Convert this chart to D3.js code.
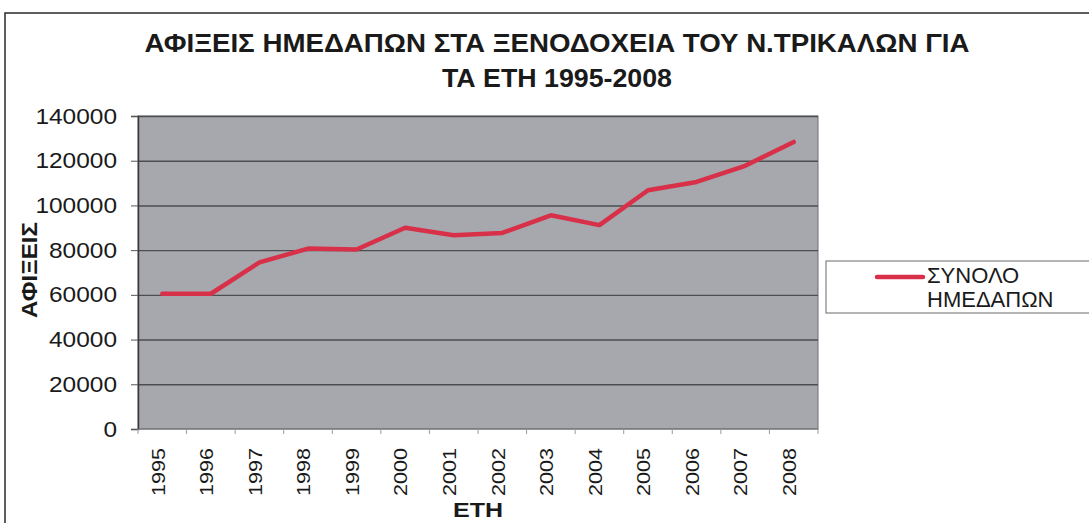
<!DOCTYPE html>
<html>
<head>
<meta charset="utf-8">
<script src="https://cdn.jsdelivr.net/npm/d3@7"></script>
<style>
  body { margin: 0; background: #fff; }
  text { font-family: "Liberation Sans", Arial, sans-serif; fill: #1a1a1a; }
</style>
</head>
<body>
<div id="container"></div>
<script>
/* DATA */
const years = ["1995","1996","1997","1998","1999","2000","2001","2002","2003","2004","2005","2006","2007","2008"];
const arrivals = [60500, 60500, 74500, 80700, 80300, 90000, 86700, 87700, 95600, 91200, 106800, 110500, 117700, 128400];
const yTicks = [0, 20000, 40000, 60000, 80000, 100000, 120000, 140000];
const titleLines = ["ΑΦΙΞΕΙΣ ΗΜΕΔΑΠΩΝ ΣΤΑ ΞΕΝΟΔΟΧΕΙΑ ΤΟΥ Ν.ΤΡΙΚΑΛΩΝ ΓΙΑ", "ΤΑ ΕΤΗ 1995-2008"];
const seriesName = ["ΣΥΝΟΛΟ", "ΗΜΕΔΑΠΩΝ"];

/* SIZES */
const W = 1089, H = 523;
const plot = { left: 138, right: 818, top: 116, bottom: 429 };

const svg = d3.select("#container").append("svg")
  .attr("width", W)
  .attr("height", H);

// outer chart frame
svg.append("rect")
  .attr("x", 5).attr("y", 13)
  .attr("width", W + 20).attr("height", H + 20)
  .attr("fill", "none")
  .attr("stroke", "#2a2a2a")
  .attr("stroke-width", 1.5);

// SCALES
const x = d3.scaleBand().domain(years).range([plot.left, plot.right]);
const y = d3.scaleLinear().domain([0, 140000]).range([plot.bottom, plot.top]);

/* PLOT BACKGROUND */
svg.append("rect")
  .attr("x", plot.left).attr("y", plot.top)
  .attr("width", plot.right - plot.left)
  .attr("height", plot.bottom - plot.top)
  .attr("fill", "#a6a8ad")
  .attr("stroke", "#6e6f72")
  .attr("stroke-width", 1);

/* GRIDLINES */
svg.append("g")
  .attr("transform", "translate(" + plot.left + ",0)")
  .call(d3.axisLeft(y).tickValues(yTicks.filter(d => d > 0)).tickSize(-(plot.right - plot.left)).tickFormat(""))
  .call(g => g.select(".domain").remove())
  .call(g => g.selectAll("line").attr("stroke", "#4d4e51").attr("stroke-width", 1.4));

/* Y AXIS */
svg.append("g")
  .attr("transform", "translate(" + plot.left + ",0)")
  .call(d3.axisLeft(y).tickValues(yTicks).tickSize(7).tickPadding(14).tickFormat(d3.format("d")))
  .call(g => g.select(".domain").attr("stroke", "#3a3a3a").attr("stroke-width", 1.5))
  .call(g => g.selectAll("line").attr("stroke", "#555"))
  .call(g => g.selectAll("text")
    .attr("font-family", "Liberation Sans, Arial, sans-serif")
    .attr("font-size", 22)
    .attr("textLength", d => String(d).length * 13.6)
    .attr("lengthAdjust", "spacingAndGlyphs")
    .attr("fill", "#1a1a1a"));

/* X AXIS: line, ticks between categories */
svg.append("line")
  .attr("x1", plot.left).attr("x2", plot.right)
  .attr("y1", plot.bottom).attr("y2", plot.bottom)
  .attr("stroke", "#707174").attr("stroke-width", 1.2);

svg.append("g").selectAll("line")
  .data(years.concat(["end"]))
  .join("line")
  .attr("x1", d => d === "end" ? plot.right : x(d))
  .attr("x2", d => d === "end" ? plot.right : x(d))
  .attr("y1", plot.bottom)
  .attr("y2", plot.bottom + 5)
  .attr("stroke", "#9a9a9a");

svg.append("g").selectAll("text")
  .data(years)
  .join("text")
  .attr("transform", d => "translate(" + (x(d) + x.bandwidth() / 2 - 4) + "," + 448 + ") rotate(-90)")
  .attr("dy", "0.35em")
  .attr("text-anchor", "end")
  .attr("font-size", 18)
  .attr("textLength", 48)
  .attr("lengthAdjust", "spacingAndGlyphs")
  .text(d => d);

/* LINE */
const line = d3.line()
  .x((d, i) => x(years[i]) + x.bandwidth() / 2)
  .y(d => y(d));

svg.append("path")
  .datum(arrivals)
  .attr("fill", "none")
  .attr("stroke", "#d83049")
  .attr("stroke-width", 4.5)
  .attr("stroke-linejoin", "round")
  .attr("stroke-linecap", "round")
  .attr("d", line);

/* TITLE */
svg.append("g").selectAll("text")
  .data(titleLines)
  .join("text")
  .attr("x", 557)
  .attr("y", (d, i) => i === 0 ? 52 : 87)
  .attr("text-anchor", "middle")
  .attr("font-weight", "bold")
  .attr("font-size", 25)
  .attr("textLength", (d, i) => i === 0 ? 825 : 230)
  .attr("lengthAdjust", "spacingAndGlyphs")
  .text(d => d);

/* AXIS TITLES */
svg.append("text")
  .attr("transform", "translate(37,270) rotate(-90)")
  .attr("text-anchor", "middle")
  .attr("font-weight", "bold")
  .attr("font-size", 22)
  .attr("textLength", 96)
  .attr("lengthAdjust", "spacingAndGlyphs")
  .text("ΑΦΙΞΕΙΣ");

svg.append("text")
  .attr("x", 478)
  .attr("y", 517)
  .attr("text-anchor", "middle")
  .attr("font-weight", "bold")
  .attr("font-size", 21)
  .attr("textLength", 50)
  .attr("lengthAdjust", "spacingAndGlyphs")
  .text("ΕΤΗ");

/* LEGEND */
const legend = svg.append("g");
legend.append("rect")
  .attr("x", 826).attr("y", 261)
  .attr("width", 280).attr("height", 52)
  .attr("fill", "#fff")
  .attr("stroke", "#6a6a6a")
  .attr("stroke-width", 1);
legend.append("line")
  .attr("x1", 877).attr("x2", 923)
  .attr("y1", 277).attr("y2", 277)
  .attr("stroke", "#d83049")
  .attr("stroke-width", 4.5)
  .attr("stroke-linecap", "round");
legend.selectAll("text.lg")
  .data(seriesName)
  .join("text")
  .attr("class", "lg")
  .attr("x", 927)
  .attr("y", (d, i) => i === 0 ? 283 : 307)
  .attr("font-size", 22)
  .text(d => d);
</script>
</body>
</html>
